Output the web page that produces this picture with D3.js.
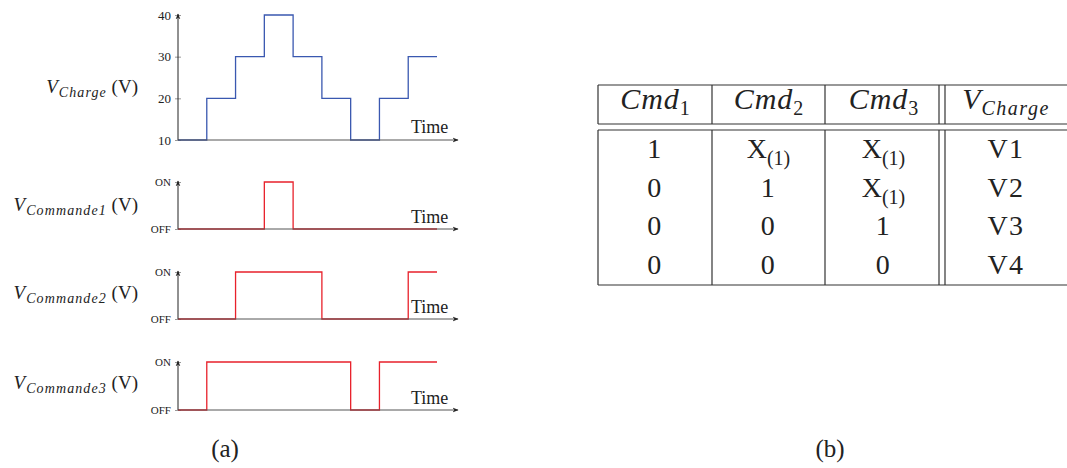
<!DOCTYPE html>
<html>
<head>
<meta charset="utf-8">
<script src="https://cdn.jsdelivr.net/npm/d3@7"></script>
<style>
  body { margin: 0; background: #fff; }
  svg { display: block; }
  text { font-family: "Liberation Serif", "DejaVu Serif", serif; fill: #222; }
</style>
</head>
<body>
<svg id="chart" width="1067" height="468"></svg>
<script>
// time instants (step boundaries)
const timeSteps = [0, 1, 2, 3, 4, 5, 6, 7, 8, 9];
// level held from each instant to the next (last value repeated for the end)
const vCharge  = [10, 20, 30, 40, 30, 20, 10, 20, 30, 30];
const cmd1     = [0, 0, 0, 1, 0, 0, 0, 0, 0, 0];
const cmd2     = [0, 0, 1, 1, 1, 0, 0, 0, 1, 1];
const cmd3     = [0, 1, 1, 1, 1, 1, 0, 1, 1, 1];
const chargeTicks = [10, 20, 30, 40];
const cmdTickLabels = ['OFF', 'ON'];

// table
const tableHeader = [['Cmd', '1'], ['Cmd', '2'], ['Cmd', '3'], ['V', 'Charge']];
const tableRows = [
  ['1', 'X(1)', 'X(1)', 'V1'],
  ['0', '1', 'X(1)', 'V2'],
  ['0', '0', '1', 'V3'],
  ['0', '0', '0', 'V4']
];

const svg = d3.select('#chart');
const blue = '#3a58b0', red = '#e8212b';

const defs = svg.append('defs');
defs.append('marker')
  .attr('id', 'arrow')
  .attr('viewBox', '0 0 10 10')
  .attr('refX', 9).attr('refY', 5)
  .attr('markerWidth', 6).attr('markerHeight', 6)
  .attr('markerUnits', 'userSpaceOnUse')
  .attr('orient', 'auto')
  .append('path')
  .attr('d', 'M0,1 L10,5 L0,9 L3,5 Z')
  .attr('fill', '#222');

const x = d3.scaleLinear().domain([0, 9]).range([178, 437]);

function panel(opts) {
  const g = svg.append('g');
  const y = opts.y;
  const [y0, y1] = y.range();

  // ticks
  const axis = d3.axisLeft(y).tickValues(opts.ticks).tickSize(3).tickPadding(4);
  if (opts.tickFormat) axis.tickFormat(opts.tickFormat);
  const ax = g.append('g').attr('transform', `translate(${x.range()[0]},0)`).call(axis);
  ax.select('.domain').remove();
  ax.selectAll('line').attr('x1', -3).attr('x2', 3).attr('stroke', '#999');
  ax.selectAll('text')
    .style('font-family', '"Liberation Serif", serif')
    .style('font-size', opts.tickSize + 'px')
    .attr('fill', '#222');

  // series
  const line = d3.line()
    .x((d, i) => x(timeSteps[i]))
    .y(d => y(d))
    .curve(d3.curveStepAfter);
  g.append('path')
    .datum(opts.values)
    .attr('d', line)
    .attr('fill', 'none')
    .attr('stroke', opts.color)
    .attr('stroke-width', 1.3);

  // axes with arrows
  g.append('line')
    .attr('x1', x.range()[0]).attr('x2', x.range()[0])
    .attr('y1', y0).attr('y2', y1 - 1)
    .attr('stroke', '#222').attr('stroke-width', 1)
    .attr('marker-end', 'url(#arrow)');
  g.append('line')
    .attr('x1', x.range()[0]).attr('x2', 458)
    .attr('y1', y0).attr('y2', y0)
    .attr('stroke', '#555').attr('stroke-width', 1)
    .attr('marker-end', 'url(#arrow)');

  g.append('text')
    .attr('x', 411).attr('y', opts.timeY)
    .style('font-size', '18px')
    .text('Time');

  // y label
  const lab = g.append('text')
    .attr('x', 138).attr('y', opts.labelY)
    .attr('text-anchor', 'end')
    .style('font-size', '19px');
  lab.append('tspan').style('font-style', 'italic').text('V');
  lab.append('tspan').attr('dy', 4).attr('dx', 1)
    .style('font-style', 'italic').style('font-size', '14px')
    .style('letter-spacing', '1.1px').text(opts.sub);
  lab.append('tspan').attr('dy', -4).text('\u00a0(V)');
}

panel({
  y: d3.scaleLinear().domain([10, 40]).range([140, 15]),
  ticks: chargeTicks, tickSize: 13,
  values: vCharge, color: blue,
  timeY: 133, labelY: 93, sub: 'Charge'
});

const cmdPanels = [
  { values: cmd1, off: 229, on: 182, timeY: 223, labelY: 211, sub: 'Commande1' },
  { values: cmd2, off: 319, on: 272, timeY: 313, labelY: 299, sub: 'Commande2' },
  { values: cmd3, off: 410, on: 362, timeY: 404, labelY: 389, sub: 'Commande3' }
];
cmdPanels.forEach(p => {
  panel({
    y: d3.scaleLinear().domain([0, 1]).range([p.off, p.on]),
    ticks: [0, 1], tickSize: 11,
    tickFormat: d => cmdTickLabels[d],
    values: p.values, color: red,
    timeY: p.timeY, labelY: p.labelY, sub: p.sub
  });
});

svg.append('text').attr('x', 225).attr('y', 457).attr('text-anchor', 'middle')
  .style('font-size', '25px').text('(a)');
svg.append('text').attr('x', 830).attr('y', 457).attr('text-anchor', 'middle')
  .style('font-size', '25px').text('(b)');

// ---- table (b)
const colEdges = [598, 712, 825, 942, 1066];
const tg = svg.append('g');
const stroke = '#333';
const tTop = 85, headBot = 124, bodyTop = 130, tBottom = 285;

function hline(yv) {
  tg.append('line').attr('x1', colEdges[0]).attr('x2', 1067).attr('y1', yv).attr('y2', yv)
    .attr('stroke', stroke).attr('stroke-width', 1.2);
}
[tTop, headBot, bodyTop, tBottom].forEach(hline);
[[598], [712], [825], [939, 945]].forEach(xs => xs.forEach(xv => {
  [[tTop, headBot], [bodyTop, tBottom]].forEach(([a, b]) => {
    tg.append('line').attr('x1', xv).attr('x2', xv).attr('y1', a).attr('y2', b)
      .attr('stroke', stroke).attr('stroke-width', 1.2);
  });
}));

const colCenter = i => (colEdges[i] + colEdges[i + 1]) / 2 + (i === 3 ? 2 : 0);

tableHeader.forEach((h, i) => {
  const t = tg.append('text').attr('x', colCenter(i)).attr('y', 109)
    .attr('text-anchor', 'middle').style('font-size', '30px');
  t.append('tspan').style('font-style', 'italic').style('letter-spacing', '1px').text(h[0]);
  const s = t.append('tspan').attr('dy', 6).style('font-size', '20px').text(h[1]);
  if (i === 3) s.style('font-style', 'italic').style('letter-spacing', '1.5px');
});

const rowY = d3.scalePoint().domain(d3.range(tableRows.length)).range([158, 274]);
tableRows.forEach((row, r) => {
  row.forEach((cell, c) => {
    const t = tg.append('text').attr('x', colCenter(c)).attr('y', rowY(r))
      .attr('text-anchor', 'middle').style('font-size', '28px');
    if (cell.startsWith('X')) {
      t.append('tspan').text('X');
      t.append('tspan').attr('dy', 7).style('font-size', '20px').text(cell.slice(1));
    } else {
      t.style('letter-spacing', '1.5px').text(cell);
    }
  });
});
</script>
</body>
</html>
